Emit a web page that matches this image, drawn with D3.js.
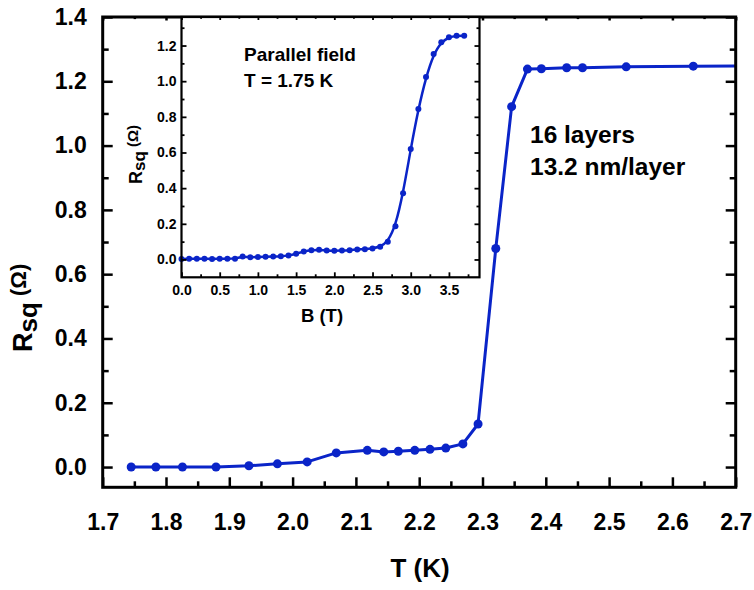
<!DOCTYPE html>
<html><head><meta charset="utf-8">
<script src="https://cdn.jsdelivr.net/npm/d3@7"></script>
<style>
body{margin:0;background:#fff}
text{font-family:"Liberation Sans",Arial,sans-serif;font-weight:bold;fill:#000}
</style>
</head><body><svg id="c" width="754" height="590"></svg>
<script>
// ---- Main plot data: R_sq vs T ----
const mainT = [1.745,1.784,1.826,1.879,1.931,1.976,2.023,2.069,2.118,2.144,2.167,2.193,2.217,2.242,2.269,2.293,2.321,2.346,2.371,2.393,2.433,2.458,2.527,2.633,2.75];
const mainR = [0.000,0.000,0.000,0.000,0.004,0.010,0.016,0.044,0.052,0.047,0.049,0.052,0.055,0.059,0.072,0.134,0.680,1.121,1.238,1.239,1.242,1.242,1.245,1.247,1.248];
const mainXTicks = [1.7,1.8,1.9,2.0,2.1,2.2,2.3,2.4,2.5,2.6,2.7];
const mainYTicks = [0.0,0.2,0.4,0.6,0.8,1.0,1.2,1.4];

// ---- Inset data: R_sq vs B (parallel field, T = 1.75 K) ----
const insetB = [0.0,0.1,0.2,0.3,0.4,0.5,0.6,0.7,0.8,0.9,1.0,1.1,1.2,1.3,1.4,1.5,1.6,1.7,1.8,1.9,2.0,2.1,2.2,2.3,2.4,2.5,2.6,2.7,2.8,2.9,3.0,3.1,3.2,3.3,3.4,3.5,3.6,3.7];
const insetR = [0.003,0.004,0.004,0.004,0.003,0.004,0.004,0.004,0.017,0.012,0.014,0.015,0.016,0.018,0.022,0.032,0.045,0.052,0.054,0.050,0.049,0.050,0.052,0.056,0.058,0.062,0.071,0.099,0.187,0.372,0.620,0.844,1.023,1.152,1.219,1.247,1.255,1.255];
const insetXTicks = [0.0,0.5,1.0,1.5,2.0,2.5,3.0,3.5];
const insetYTicks = [0.0,0.2,0.4,0.6,0.8,1.0,1.2];

const blue = "#0a24c8";
const svg = d3.select("#c");

function frame(g, x, y, o) {
  const [x0,x1] = x.range(), [y1,y0] = y.range();
  const w = x1-x0, h = y1-y0;
  const fmt = d3.format(".1f");
  g.append("g").attr("transform",`translate(0,${y1})`)
    .call(d3.axisBottom(x).tickValues(o.xMaj).tickFormat(fmt).tickSizeInner(-o.maj).tickSizeOuter(0).tickPadding(o.xPad))
    .call(a=>{a.select(".domain").remove();a.selectAll("text").style("font-size",o.fs+"px");});
  g.append("g").attr("transform",`translate(0,${y1})`)
    .call(d3.axisBottom(x).tickValues(o.xMin).tickFormat("").tickSizeInner(-o.min).tickSizeOuter(0))
    .call(a=>a.select(".domain").remove());
  g.append("g").attr("transform",`translate(0,${y0})`)
    .call(d3.axisTop(x).tickValues(o.xMaj).tickFormat("").tickSizeInner(-o.maj*o.topScale).tickSizeOuter(0))
    .call(a=>a.select(".domain").remove());
  g.append("g").attr("transform",`translate(0,${y0})`)
    .call(d3.axisTop(x).tickValues(o.xMin).tickFormat("").tickSizeInner(-o.min*o.topScale).tickSizeOuter(0))
    .call(a=>a.select(".domain").remove());
  g.append("g").attr("transform",`translate(${x0},0)`)
    .call(d3.axisLeft(y).tickValues(o.yMaj).tickFormat(fmt).tickSizeInner(-o.maj).tickSizeOuter(0).tickPadding(o.yPad))
    .call(a=>{a.select(".domain").remove();a.selectAll("text").style("font-size",o.fs+"px");});
  g.append("g").attr("transform",`translate(${x0},0)`)
    .call(d3.axisLeft(y).tickValues(o.yMin).tickFormat("").tickSizeInner(-o.min).tickSizeOuter(0))
    .call(a=>a.select(".domain").remove());
  g.append("g").attr("transform",`translate(${x1},0)`)
    .call(d3.axisRight(y).tickValues(o.yMaj).tickFormat("").tickSizeInner(-o.maj).tickSizeOuter(0))
    .call(a=>a.select(".domain").remove());
  g.append("g").attr("transform",`translate(${x1},0)`)
    .call(d3.axisRight(y).tickValues(o.yMin).tickFormat("").tickSizeInner(-o.min).tickSizeOuter(0))
    .call(a=>a.select(".domain").remove());
  g.selectAll(".tick line").attr("stroke","#000").attr("stroke-width",o.tw);
  g.append("rect").attr("x",x0).attr("y",y0).attr("width",w).attr("height",h)
    .attr("fill","none").attr("stroke","#000").attr("stroke-width",o.sw);
}

// ---- Main axes ----
const mx = d3.scaleLinear().domain([1.7,2.7]).range([102.7,735.7]);
const my = d3.scaleLinear().domain([-0.063,1.4]).range([487.3,17]);
const mainG = svg.append("g");
svg.append("clipPath").attr("id","mclip").append("rect")
  .attr("x",102.7).attr("y",10).attr("width",633).attr("height",477.3);
const mdata = mainT.map((t,i)=>({x:t,y:mainR[i]}));
const mplot = mainG.append("g").attr("clip-path","url(#mclip)");
mplot.append("path").datum(mdata)
  .attr("d",d3.line().x(d=>mx(d.x)).y(d=>my(d.y)))
  .attr("fill","none").attr("stroke",blue).attr("stroke-width",3).attr("stroke-linejoin","round");
mplot.selectAll("circle").data(mdata).join("circle")
  .attr("cx",d=>mx(d.x)).attr("cy",d=>my(d.y)).attr("r",4.5).attr("fill",blue);

const xmin = d3.range(1.75,2.7,0.1).map(v=>+v.toFixed(2));
const ymin = d3.range(0.1,1.4,0.2).map(v=>+v.toFixed(2));
frame(mainG, mx, my, {xMaj:mainXTicks, xMin:xmin, yMaj:mainYTicks, yMin:ymin,
  maj:10, min:6, topScale:0.35, tw:2.5, sw:3, fs:23, xPad:26, yPad:16});

// Main labels
svg.append("text").attr("x",420).attr("y",577).attr("text-anchor","middle")
  .style("font-size","26px").text("T (K)");
const yl = svg.append("text").attr("transform","translate(32,352) rotate(-90)")
  .attr("text-anchor","start").style("font-size","27px");
yl.append("tspan").text("R");
yl.append("tspan").attr("dy",5).style("font-size","26px").text("sq");
yl.append("tspan").attr("dy",-11).style("font-size","22px").text(" (Ω)");

svg.append("text").attr("x",530).attr("y",143).style("font-size","24.5px").text("16 layers");
svg.append("text").attr("x",530).attr("y",175).style("font-size","24.5px").text("13.2 nm/layer");

// ---- Inset ----
const ix = d3.scaleLinear().domain([0,3.9]).range([181.5,479.5]);
const iy = d3.scaleLinear().domain([-0.1,1.36]).range([277.3,17]);
const insG = svg.append("g");
insG.append("rect").attr("x",181.5).attr("y",17).attr("width",298).attr("height",260.3).attr("fill","#fff");
const idata = insetB.map((b,i)=>({x:b,y:insetR[i]}));
insG.append("path").datum(idata)
  .attr("d",d3.line().curve(d3.curveBasis).x(d=>ix(d.x)).y(d=>iy(d.y)))
  .attr("fill","none").attr("stroke",blue).attr("stroke-width",2.5);
insG.selectAll("circle").data(idata).join("circle")
  .attr("cx",d=>ix(d.x)).attr("cy",d=>iy(d.y)).attr("r",3).attr("fill",blue);
const ixmin = d3.range(0.25,3.9,0.5).map(v=>+v.toFixed(2));
const iymin = d3.range(0.1,1.36,0.2).map(v=>+v.toFixed(2));
frame(insG, ix, iy, {xMaj:insetXTicks, xMin:ixmin, yMaj:insetYTicks, yMin:iymin,
  maj:5, min:3, topScale:0.6, tw:1.8, sw:2.2, fs:14, xPad:8, yPad:5});

svg.append("text").attr("x",322).attr("y",322).attr("text-anchor","middle")
  .style("font-size","18.5px").text("B (T)");
const iyl = svg.append("text").attr("transform","translate(142,184) rotate(-90)")
  .attr("text-anchor","start").style("font-size","18px");
iyl.append("tspan").text("R");
iyl.append("tspan").attr("dy",3).style("font-size","17px").text("sq");
iyl.append("tspan").attr("dy",-7).style("font-size","15px").text(" (Ω)");

svg.append("text").attr("x",244).attr("y",60.5).style("font-size","19px").text("Parallel field");
svg.append("text").attr("x",244).attr("y",87).style("font-size","19px").text("T = 1.75 K");
</script></body></html>
